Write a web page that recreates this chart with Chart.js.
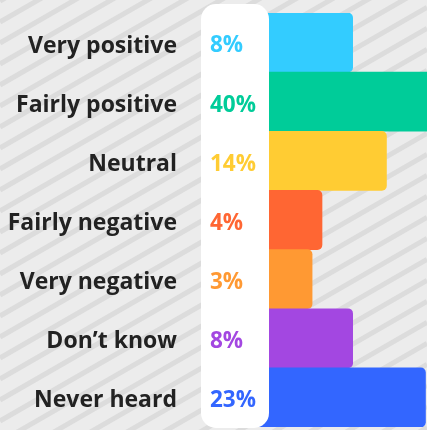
<!DOCTYPE html>
<html>
<head>
<meta charset="utf-8">
<script src="https://cdn.jsdelivr.net/npm/chart.js@4.4.1/dist/chart.umd.min.js"></script>
<style>
html,body{margin:0;padding:0;background:#ececec;}
#wrap{width:427px;height:430px;position:relative;}
</style>
</head>
<body>
<div id="wrap"><canvas id="c"></canvas></div>
<script>
const categories = ["Very positive", "Fairly positive", "Neutral", "Fairly negative", "Very negative", "Don\u2019t know", "Never heard"];
const values = [8, 40, 14, 4, 3, 8, 23];
const valueLabels = ["8%", "40%", "14%", "4%", "3%", "8%", "23%"];
const colors = ["#33ccff", "#00cc99", "#ffcc33", "#ff6633", "#ff9933", "#a347e1", "#3366ff"];

class SqrtScale extends Chart.LinearScale {
  getPixelForValue(value) {
    const a = Math.sqrt(Math.max(0, this.min)), b = Math.sqrt(this.max);
    const v = Math.sqrt(Math.max(0, value));
    return this.getPixelForDecimal((v - a) / (b - a));
  }
  getValueForPixel(pixel) {
    const a = Math.sqrt(Math.max(0, this.min)), b = Math.sqrt(this.max);
    const s = a + this.getDecimalForPixel(pixel) * (b - a);
    return s * s;
  }
}
SqrtScale.id = 'sqrt';
SqrtScale.defaults = {};
Chart.register(SqrtScale);

const bgPlugin = {
  id: 'bg',
  beforeDraw(chart) {
    const ctx = chart.ctx, w = chart.width, h = chart.height;
    ctx.save();
    ctx.fillStyle = '#ececec';
    ctx.fillRect(0, 0, w, h);
    ctx.strokeStyle = '#dcdcdc';
    ctx.lineWidth = 5;
    const slope = 0.575, spacing = 21;
    for (let y0 = -20; y0 < h + w * slope + 40; y0 += spacing) {
      ctx.beginPath();
      ctx.moveTo(0, y0);
      ctx.lineTo(w, y0 - w * slope);
      ctx.stroke();
    }
    ctx.restore();
  }
};

const overlayPlugin = {
  id: 'overlay',
  afterDatasetsDraw(chart) {
    const ctx = chart.ctx;
    const yScale = chart.scales.y;
    ctx.save();
    ctx.fillStyle = '#ffffff';
    ctx.beginPath();
    ctx.roundRect(201, 4, 68, 424, 15);
    ctx.fill();
    ctx.textBaseline = 'middle';
    categories.forEach((cat, i) => {
      const y = yScale.getPixelForValue(i) + 3.5;
      ctx.font = 'bold 23px "Open Sans"';
      ctx.fillStyle = '#222222';
      ctx.textAlign = 'right';
      ctx.fillText(cat, 177, y);
      ctx.font = 'bold 22.5px "Open Sans"';
      ctx.fillStyle = colors[i];
      ctx.textAlign = 'left';
      ctx.fillText(valueLabels[i], 210, y);
    });
    ctx.restore();
  }
};

new Chart(document.getElementById('c'), {
  type: 'bar',
  data: {
    labels: categories,
    datasets: [{
      data: values,
      backgroundColor: colors,
      borderWidth: 0,
      borderRadius: {topLeft: 0, bottomLeft: 0, topRight: 5, bottomRight: 5},
      borderSkipped: false,
      barPercentage: 1,
      categoryPercentage: 1
    }]
  },
  options: {
    indexAxis: 'y',
    responsive: true,
    maintainAspectRatio: false,
    animation: false,
    layout: {padding: {left: 248, right: 0, top: 13, bottom: 3}},
    plugins: {legend: {display: false}, tooltip: {enabled: false}},
    scales: {
      x: {type: 'sqrt', min: 0, max: 23.4, display: false},
      y: {display: false}
    }
  },
  plugins: [bgPlugin, overlayPlugin]
});
</script>
</body>
</html>
